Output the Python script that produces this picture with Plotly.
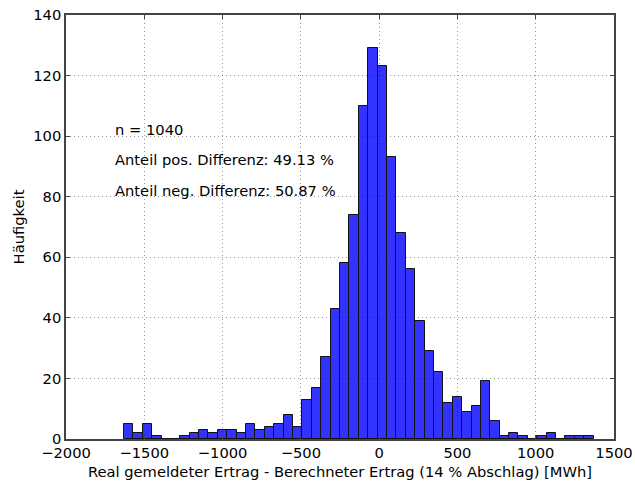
import numpy as np
import plotly.graph_objects as go

# Histogram counts (50 equal-width bins)
counts = [5, 2, 5, 1, 0, 0, 1, 2, 3, 2,
          3, 3, 2, 5, 3, 4, 5, 8, 4, 13,
          17, 27, 43, 58, 74, 110, 129, 123, 93, 68,
          56, 39, 29, 22, 12, 14, 9, 11, 19, 6,
          1, 2, 1, 0, 1, 2, 0, 1, 1, 1]
bin_start = -1630.0
bin_width = 60.0

x_ticks = [-2000, -1500, -1000, -500, 0, 500, 1000, 1500]
y_ticks = [0, 20, 40, 60, 80, 100, 120, 140]

info_lines = ["n = 1040",
              "Anteil pos. Differenz: 49.13 %",
              "Anteil neg. Differenz: 50.87 %"]
info_y = [100, 90, 80]

centers = bin_start + bin_width * (np.arange(len(counts)) + 0.5)

FONT = "DejaVu Sans"
FS = 14.7

fig = go.Figure(go.Bar(
    x=centers, y=counts, width=bin_width,
    marker=dict(color="rgba(0,0,255,0.8)", line=dict(color="#111111", width=1)),
))

# text baseline sits on the given y value
for txt, yv in zip(info_lines, info_y):
    fig.add_annotation(x=-1700, y=yv, text=txt, showarrow=False,
                       xanchor="left", yanchor="bottom", yshift=-4,
                       font=dict(family=FONT, size=FS, color="#000000"))

axis_common = dict(
    showline=True, linecolor="#444444", linewidth=1.5, mirror="ticks",
    ticks="inside", ticklen=4, tickcolor="#444444",
    showgrid=True, gridcolor="rgba(0,0,0,0.4)", gridwidth=1, griddash="1px,3px",
    zeroline=False, tickfont=dict(family=FONT, size=FS, color="#000000"),
    automargin=False,
)

fig.update_xaxes(range=[-2000, 1500], tickvals=x_ticks,
                 title=dict(text="Real gemeldeter Ertrag - Berechneter Ertrag (14 % Abschlag) [MWh]",
                            font=dict(family=FONT, size=FS, color="#000000"), standoff=6),
                 **axis_common)
fig.update_yaxes(range=[0, 140], tickvals=y_ticks,
                 title=dict(text="Häufigkeit",
                            font=dict(family=FONT, size=FS, color="#000000"), standoff=5),
                 **axis_common)

fig.update_layout(
    width=635, height=486,
    margin=dict(l=66, r=21, t=15, b=47),
    plot_bgcolor="#ffffff", paper_bgcolor="#ffffff",
    showlegend=False, bargap=0,
)

fig.write_html("out.html")
